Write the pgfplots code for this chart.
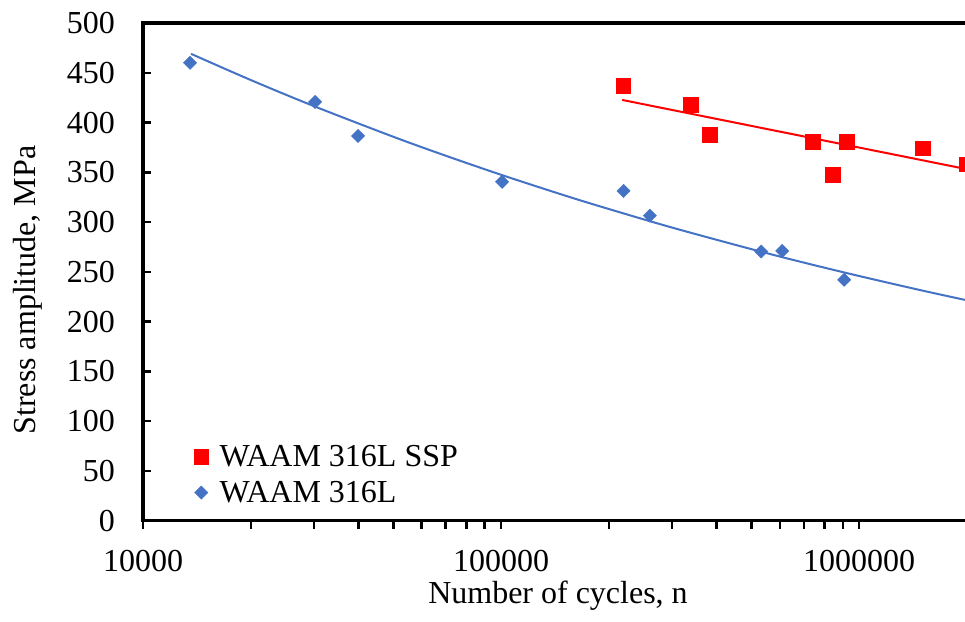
\documentclass[border=0pt]{standalone}
\usepackage{fontspec}
\setmainfont{Liberation Serif}
\usepackage{pgfplots}
\pgfplotsset{compat=1.18}

\definecolor{seriesblue}{HTML}{4472C4}
\definecolor{seriesred}{HTML}{FF0000}

\newcommand{\ticksize}{\fontsize{32}{38}\selectfont}
\newcommand{\labelsize}{\fontsize{32}{38}\selectfont}

\begin{document}
\begin{tikzpicture}[x=1pt,y=1pt]
\begin{axis}[
  at={(0pt,0pt)}, anchor=south west,
  scale only axis, width=824pt, height=497.7pt,
  xmode=log, log basis x=10,
  xmin=10000, xmax=2000000, ymin=0, ymax=500,
  xtick={10000,100000,1000000},
  xticklabels={10000,100000,1000000},
  minor xtick={20000,30000,40000,50000,60000,70000,80000,90000,
               200000,300000,400000,500000,600000,700000,800000,900000,2000000},
  ytick={0,50,100,150,200,250,300,350,400,450,500},
  /pgf/number format/assume math mode=true,
  xtick pos=bottom, ytick pos=left,
  xtick align=outside, ytick align=inside,
  major tick length=8pt, minor tick length=8pt,
  every tick/.style={black, line width=2.5pt},
  axis line style={black, line width=3.5pt},
  tick label style={font=\ticksize},
  yticklabel style={anchor=east, inner sep=0pt, xshift=-28pt},
  xticklabel style={anchor=north, inner sep=0pt, yshift=-21pt},
  legend style={draw=none, fill=none, inner sep=0pt, outer sep=0pt,
    at={(0.0617,0.151)}, anchor=north west,
    font=\labelsize, row sep=13pt, column sep=11pt,
    nodes={inner sep=0pt}},
  legend cell align=left,
  legend image code/.code={\draw[#1] plot coordinates {(0pt,0pt)};},
]

% SSP specimens
\addplot[only marks, mark=square*, mark size=7.4pt,
  mark options={draw=seriesred, fill=seriesred}]
  coordinates {
  (219300,437.4) (338700,418.0) (382800,387.6) (742300,380.5)
  (844200,347.7) (921800,380.8) (1503000,374.2) (2000000,358.1)
};
\addlegendentry{WAAM 316L SSP}

% as-built specimens
\addplot[only marks, mark=square*, mark size=4.7pt,
  mark options={draw=seriesblue, fill=seriesblue, rotate=45}]
  coordinates {
  (13530,460.0) (30230,420.7) (39870,386.5) (100600,340.4)
  (219700,331.3) (260200,306.5) (532400,270.4) (609500,271.0)
  (907800,242.0)
};
\addlegendentry{WAAM 316L}

% logarithmic trend, SSP
\addplot[forget plot, no marks, seriesred, line width=2pt]
  coordinates {(217800,422.7) (2000000,353.1)};

% power-law trend, as-built
\addplot[forget plot, no marks, seriesblue, line width=2pt, smooth]
  coordinates {
  (13620,469.0) (20000,442.7) (30000,416.5) (50000,385.7) (70000,366.7)
  (100000,347.5) (150000,326.9) (200000,313.1) (300000,294.5)
  (500000,272.8) (700000,259.3) (1000000,245.8) (1500000,231.2)
  (2000000,221.4)
};
\end{axis}

\node[rotate=90, font=\labelsize, anchor=base] at (-107,230.7) {Stress amplitude, MPa};
\node[font=\labelsize, anchor=base] at (415,-82.3) {Number of cycles, n};

\pgfresetboundingbox
\path[use as bounding box] (-143,-100.3) rectangle (822,520.7);
\end{tikzpicture}
\end{document}
